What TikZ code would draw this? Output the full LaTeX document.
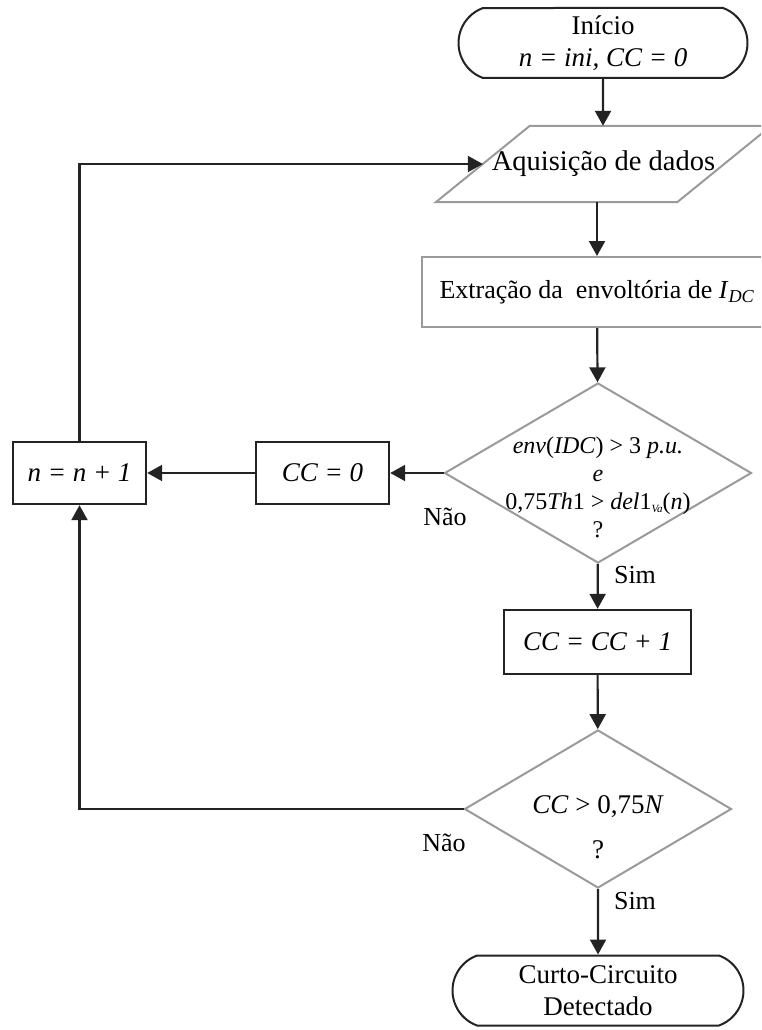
\documentclass[tikz,border=0pt]{standalone}
\usepackage{fontspec}
\setmainfont{Liberation Serif}
\usepackage{tikz}
\usetikzlibrary{arrows.meta,positioning,shapes.geometric,shapes.misc,calc}
\definecolor{ink}{HTML}{232323}
\definecolor{edge}{HTML}{9A9A9A}
\newcommand{\tinysub}[1]{\raisebox{-3pt}{\fontsize{11}{11}\selectfont\textit{#1}}}

\begin{document}
\begin{tikzpicture}[x=1pt,y=-1pt,>={Triangle[width=16pt,length=15pt]},
 font=\fontsize{27}{32}\selectfont,
 term/.style={draw=ink,line width=2pt,rounded rectangle,rounded rectangle arc length=140,minimum height=70pt,align=center,inner sep=0pt},
 box/.style={draw=ink,line width=2.4pt,minimum width=133pt,minimum height=62pt,inner sep=0pt},
 gbox/.style={draw=edge,line width=2pt,minimum height=70pt,inner sep=0pt},
 dec/.style={draw=edge,line width=2pt,diamond,inner sep=0pt},
 ar/.style={->,line width=2.2pt,color=ink},
 lbl/.style={font=\fontsize{26}{30}\selectfont}]
 \useasboundingbox (0,0) rectangle (761,1030);
 \clip (0,0) rectangle (761,1030);
 % main column
 \node[term,minimum width=289pt] (start) at (603,43) {Início\\\textit{n = ini, CC = 0}};
 \node[minimum width=335pt,minimum height=76pt,inner sep=0pt,font=\fontsize{28.5}{33}\selectfont] (aq) at (603.5,164) {Aquisição de dados\hspace{24pt}};
 \draw[edge,line width=2pt] ([xshift=94pt]aq.north west) -- (aq.north east)
  -- ([xshift=-94pt]aq.south east) -- (aq.south west) -- cycle;
 \coordinate (aqin) at ($(aq.south west)!.5!([xshift=94pt]aq.north west)$);
 \node[gbox,minimum width=350pt,font=\fontsize{26}{31}\selectfont] (ext) at (597,292) {Extração da\ \ envoltória de \textit{I}\textsubscript{\textit{DC}}};
 \node[dec,minimum width=307pt,minimum height=180pt] (d1) at (598,473) {};
 \node[align=center,font=\fontsize{24}{28}\selectfont] (d1txt) at (598,487)
  {\textit{env}(\textit{IDC}) > 3 \textit{p.u.}\\\textit{e}\\0,75\textit{Th}1 > \textit{del}1\tinysub{Va}(\textit{n})\\?};
 \node[box,minimum width=187pt,minimum height=64pt] (ccp) at (597.5,642) {\textit{CC = CC + 1}};
 \node[dec,minimum width=267pt,minimum height=158pt] (d2) at (598,809) {};
 \node[align=center] (d2txt) at (598,827) {\textit{CC} > 0,75\textit{N}\\[13pt]?};
 \node[term,minimum width=291pt] (fim) at (598,990.5) {Curto-Circuito\\Detectado};
 % left branch
 \node[box] (cc0) at (322.5,473) {\textit{CC = 0}};
 \node[box] (inc) at (79.5,473) {\textit{n = n + 1}};
 % labels
 \node[lbl] (nao1) at (445,517) {Não};
 \node[lbl] (sim1) at (635,575) {Sim};
 \node[lbl] (nao2) at (444,843) {Não};
 \node[lbl] (sim2) at (635,901) {Sim};
 % connectors
 \draw[ar] (start) -- (start |- aq.north);
 \draw[ar] (aq.south -| ext.north) -- (ext.north);
 \draw[ar] (ext) -- (d1);
 \draw[ar] (d1.west) -- (cc0.east);
 \draw[ar] (cc0.west) -- (inc.east);
 \draw[ar] (inc.north) |- (aqin);
 \draw[ar] (d1) -- (ccp);
 \draw[ar] (ccp) -- (d2);
 \draw[ar] (d2.west) -| (inc.south);
 \draw[ar] (d2) -- (fim);
\end{tikzpicture}
\end{document}
